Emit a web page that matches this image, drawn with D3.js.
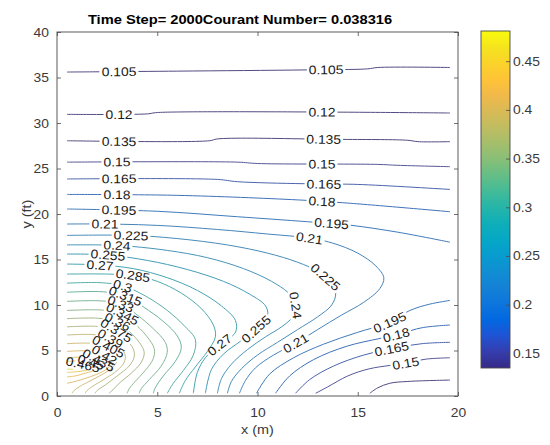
<!DOCTYPE html>
<html>
<head>
<meta charset="utf-8">
<script src="https://cdn.jsdelivr.net/npm/d3@7"></script>
<style>
  body { margin: 0; background: #fff; }
  text { font-family: "Liberation Sans", Arial, sans-serif; }
</style>
</head>
<body>
<svg id="chart" width="550" height="445"></svg>
<script>
// ---- chart content ----
const titleText = "Time Step= 2000Courant Number= 0.038316";
const xLabel = "x (m)";
const yLabel = "y (ft)";
const xTicks = [0, 5, 10, 15, 20];
const yTicks = [0, 5, 10, 15, 20, 25, 30, 35, 40];
const colorTicks = [0.15, 0.2, 0.25, 0.3, 0.35, 0.4, 0.45];
const colorRange = [0.135, 0.481];

// contour level of each traced piece
const pieceLevels = [
  0.105, 0.12, 0.135, 0.15, 0.165, 0.18, 0.195,
  0.135, 0.15, 0.165, 0.18, 0.195,
  0.21, 0.225, 0.24, 0.255, 0.27, 0.285, 0.3, 0.315, 0.33, 0.345,
  0.36, 0.375, 0.39, 0.405, 0.42, 0.435, 0.45, 0.465
];

// contour pieces as [x (m), y (ft)] vertices
const pieceCoords = [
  [[0.5,35.6],[6,35.7],[13,35.85],[15.5,35.95],[16,36.1],[19.6,36.1]],
  [[0.5,30.95],[4.5,31.0],[5,31.15],[19.6,31.1]],
  [[0.5,28.05],[7.6,28.05],[8,28.25],[14,28.2],[17.5,28.1],[18,27.95],[19.6,27.95]],
  [[0.5,25.7],[9,25.7],[10,25.55],[16,25.45],[17,25.35],[19.6,25.2]],
  [[0.5,23.85],[8,23.8],[9,23.55],[13,23.3],[15,23.25],[19.6,22.7]],
  [[0.5,22.15],[6,22.05],[12,21.55],[14.5,21.2],[19.6,20.25]],
  [[0.5,20.55],[5,20.3],[9,19.7],[12.5,19.15],[14.5,18.8],[17,18.0],[19.6,16.9]],
  [[15.6,0.3],[16.0,0.9],[16.6,1.4],[17.5,1.6],[19.6,1.75]],
  [[12.9,0.3],[13.5,1.0],[14.5,2.2],[15.6,3.0],[17.4,3.6],[18.4,4.05],[19.6,4.2]],
  [[11.9,0.3],[12.6,1.8],[13.8,3.3],[15.3,4.5],[16.7,5.2],[18.2,5.75],[19.6,5.9]],
  [[10.9,0.3],[11.6,2.2],[12.8,4.0],[14.5,5.5],[16.9,6.7],[18.2,7.5],[19.6,7.8]],
  [[9.95,0.3],[10.6,2.4],[11.8,4.2],[13.3,5.7],[15.0,7.0],[16.6,8.1],[17.6,9.4],[18.6,10.1],[19.6,10.5]],
  [[0.5,18.9],[2.4,18.9],[5,18.75],[8,18.3],[10.5,17.8],[12.6,17.35],[13.75,16.8],[15.0,15.7],[15.9,14.3],[16.3,13.0],[16.1,11.8],[15.3,10.3],[14.2,8.9],[13.0,7.3],[11.9,5.8],[10.8,4.5],[9.9,3.1],[9.4,1.7],[9.1,0.3]],
  [[0.5,17.65],[3.7,17.65],[6,17.3],[8.5,16.6],[10.5,15.7],[12.0,14.7],[13.0,13.7],[13.6,12.6],[13.9,11.3],[13.7,10.0],[13.0,8.7],[12.0,7.3],[11.0,5.9],[10.0,4.5],[9.2,3.0],[8.7,1.6],[8.5,0.3]],
  [[0.5,16.6],[3,16.55],[5.5,16.0],[7.5,15.2],[9.3,14.0],[10.7,12.6],[11.6,11.2],[11.9,10.0],[11.8,8.8],[11.2,7.6],[10.4,6.5],[9.5,5.1],[8.7,3.5],[8.2,1.9],[8.0,0.3]],
  [[0.5,15.6],[2.5,15.5],[4.5,14.9],[6.5,13.9],[8.3,12.6],[9.6,11.2],[10.4,9.9],[10.5,8.8],[9.95,7.4],[9.2,6.1],[8.3,4.6],[7.7,2.9],[7.4,0.3]],
  [[0.5,14.5],[2.1,14.4],[3.8,14.0],[5.5,13.0],[7.0,11.6],[8.2,9.9],[8.9,8.3],[8.9,7.0],[8.1,5.6],[7.4,4.2],[7.0,2.6],[6.8,0.3]],
  [[0.5,13.4],[2.5,13.4],[3.8,13.25],[5.0,12.6],[6.2,11.3],[7.2,9.6],[7.8,7.8],[7.9,6.5],[7.5,4.9],[6.9,3.2],[6.4,1.7],[6.1,0.3]],
  [[0.5,12.4],[2.2,12.45],[3.3,12.1],[4.4,11.0],[5.5,9.4],[6.4,7.6],[6.9,6.2],[6.8,4.5],[6.3,2.8],[5.8,1.4],[5.5,0.3]],
  [[0.5,11.4],[2.3,11.45],[3.4,11.0],[4.3,9.8],[5.3,8.2],[6.0,6.6],[6.2,5.3],[5.9,3.8],[5.3,2.2],[4.9,0.9],[4.8,0.3]],
  [[0.5,10.4],[2.2,10.45],[3.2,10.1],[4.0,8.9],[4.8,7.4],[5.4,5.9],[5.5,4.8],[5.2,3.3],[4.6,1.8],[4.2,0.8],[4.1,0.3]],
  [[0.5,9.4],[2.2,9.45],[3.2,9.1],[3.9,7.9],[4.5,6.5],[4.85,5.2],[4.8,4.1],[4.4,2.8],[3.9,1.6],[3.6,0.8],[3.5,0.3]],
  [[0.5,8.5],[2.0,8.55],[3.0,8.2],[3.6,7.1],[4.1,5.9],[4.35,4.8],[4.2,3.7],[3.7,2.5],[3.1,1.4],[2.8,0.7],[2.6,0.3]],
  [[0.5,7.6],[2.0,7.65],[2.9,7.3],[3.4,6.3],[3.8,5.2],[3.85,4.3],[3.6,3.3],[3.0,2.2],[2.4,1.2],[2.0,0.6],[1.9,0.3]],
  [[0.5,6.7],[1.8,6.75],[2.6,6.4],[3.1,5.5],[3.4,4.5],[3.35,3.7],[3.0,2.8],[2.4,1.9],[1.8,1.1],[1.5,0.6],[1.4,0.3]],
  [[0.5,5.75],[1.7,5.8],[2.5,5.5],[2.95,4.7],[3.0,3.9],[2.75,3.1],[2.2,2.3],[1.6,1.6],[1.1,1.0],[0.85,0.6],[0.75,0.3]],
  [[0.5,4.9],[1.6,4.95],[2.3,4.6],[2.65,3.9],[2.6,3.2],[2.2,2.6],[1.5,2.0],[0.9,1.6],[0.5,1.4]],
  [[0.5,4.2],[1.5,4.25],[2.1,3.9],[2.3,3.4],[2.0,2.9],[1.4,2.5],[0.9,2.2],[0.5,2.1]],
  [[0.5,3.8],[1.3,3.85],[1.85,3.55],[1.85,3.1],[1.4,2.8],[0.9,2.65],[0.5,2.6]],
  [[0.5,3.55],[1.1,3.55],[1.5,3.3],[1.3,3.05],[0.9,2.95],[0.5,2.95]]
];

// inline contour labels: level and approximate spot (data units)
const labelLevels = [
  0.105, 0.105, 0.12, 0.12, 0.135, 0.135, 0.15, 0.15, 0.165, 0.165, 0.18, 0.18,
  0.195, 0.195, 0.21, 0.21, 0.21, 0.225, 0.225, 0.24, 0.24, 0.255, 0.255, 0.27, 0.27,
  0.285, 0.3, 0.315, 0.33, 0.345, 0.36, 0.375, 0.39, 0.405, 0.42, 0.435, 0.45, 0.465,
  0.195, 0.18, 0.165, 0.15
];
const labelAnchors = [
  [3.1,35.6],[13.4,35.85],[3.1,31.0],[13.2,31.1],[3.1,28.05],[13.3,28.2],[3.0,25.7],[13.2,25.5],
  [3.1,23.8],[13.3,23.3],[3.0,22.1],[13.2,21.4],[3.1,20.4],[13.7,18.9],
  [2.4,18.9],[12.6,17.4],[11.9,5.75],[3.7,17.65],[13.4,13.1],[3.0,16.5],[11.9,10.0],
  [2.55,15.45],[9.93,7.4],[2.14,14.4],[8.1,5.7],
  [3.8,13.25],[3.3,12.2],[3.45,11.2],[3.2,10.3],[3.3,9.2],[3.05,8.3],[3.0,7.3],[2.7,6.4],
  [2.6,5.5],[2.4,4.7],[2.1,4.0],[1.7,3.6],[1.3,3.4],
  [16.6,8.1],[16.9,6.7],[16.7,5.2],[17.4,3.6]
];

// MATLAB parula colormap samples (every third entry of the 64-colour table)
const parula = [
  [0.2081,0.1663,0.5292],[0.2081,0.2386,0.6771],[0.1253,0.3242,0.8303],[0.0060,0.4086,0.8828],
  [0.0498,0.4586,0.8641],[0.0779,0.5040,0.8384],[0.0641,0.5570,0.8240],[0.0265,0.6137,0.8135],
  [0.0228,0.6535,0.7768],[0.0590,0.6838,0.7254],[0.1453,0.7098,0.6646],[0.2586,0.7317,0.5954],
  [0.3953,0.7459,0.5244],[0.5300,0.7491,0.4661],[0.6473,0.7456,0.4188],[0.7525,0.7384,0.3768],
  [0.8507,0.7299,0.3360],[0.9450,0.7261,0.2886],[0.9990,0.7653,0.2164],[0.9789,0.8271,0.1633],
  [0.9589,0.8949,0.1132],[0.9763,0.9831,0.0538]
].map(c => d3.rgb(c[0]*255, c[1]*255, c[2]*255).toString());

// ---- layout ----
const plot = { left: 57, right: 458, top: 32, bottom: 396 };
const bar = { left: 481, right: 510, top: 31, bottom: 368 };
const stretch = 1.11;         // horizontal text stretch of the figure
const ink = "#4a4a4a";

const svg = d3.select("#chart");
const x = d3.scaleLinear().domain([0, 20]).range([plot.left, plot.right]);
const y = d3.scaleLinear().domain([0, 40]).range([plot.bottom, plot.top]);
const color = d3.scaleLinear()
  .domain(parula.map((_, i) => colorRange[0] + i / (parula.length - 1) * (colorRange[1] - colorRange[0])))
  .range(parula).clamp(true);
// thin contour strokes read softer than the colormap itself:
// low levels fade toward mid grey, high levels toward a pale grey
const tNorm = d3.scaleLinear().domain(colorRange).range([0, 1]).clamp(true);
const lineColor = v => {
  const soft = d3.interpolateRgb("#7c7c7c", "#d4d4d4")(tNorm(v));
  return d3.interpolateRgb(color(v), soft)(0.42);
};

svg.append("rect").attr("width", 550).attr("height", 445).attr("fill", "#fff");

const defs = svg.append("defs");
defs.append("clipPath").attr("id", "plotClip").append("rect")
  .attr("x", plot.left).attr("y", plot.top)
  .attr("width", plot.right - plot.left).attr("height", plot.bottom - plot.top);

// ---- contour lines ----
const line = d3.line().x(d => x(d[0])).y(d => y(d[1])).curve(d3.curveCatmullRom.alpha(0.5));
const gLines = svg.append("g").attr("clip-path", "url(#plotClip)");
const paths = gLines.selectAll("path").data(pieceCoords).join("path")
  .attr("d", line)
  .attr("fill", "none")
  .attr("stroke", (d, i) => lineColor(pieceLevels[i]))
  .attr("stroke-width", 1)
  .attr("stroke-linejoin", "round");

const pathNodes = paths.nodes();
const gaps = pathNodes.map(() => []);
const gLabels = svg.append("g");
const fmt = v => String(+v.toFixed(3));

labelLevels.forEach((lev, k) => {
  const ax = x(labelAnchors[k][0]), ay = y(labelAnchors[k][1]);
  let best = { d: Infinity, i: -1, s: 0 };
  pathNodes.forEach((node, i) => {
    if (Math.abs(pieceLevels[i] - lev) > 1e-9) return;
    const L = node.getTotalLength();
    for (let s = 0; s <= L; s += 1) {
      const p = node.getPointAtLength(s);
      const dd = (p.x - ax) ** 2 + (p.y - ay) ** 2;
      if (dd < best.d) best = { d: dd, i, s };
    }
  });
  if (best.i < 0) return;
  const node = pathNodes[best.i];
  const L = node.getTotalLength();
  const p = node.getPointAtLength(best.s);
  const p0 = node.getPointAtLength(Math.max(0, best.s - 3));
  const p1 = node.getPointAtLength(Math.min(L, best.s + 3));
  let ang = Math.atan2(p1.y - p0.y, p1.x - p0.x) * 180 / Math.PI;
  if (ang > 90) ang -= 180;
  if (ang < -90) ang += 180;
  const t = gLabels.append("text")
    .attr("transform", `translate(${p.x},${p.y}) rotate(${ang}) scale(${stretch},1)`)
    .attr("text-anchor", "middle")
    .attr("dy", "0.36em")
    .attr("font-size", "12.5px")
    .attr("fill", "#1a1a1a")
    .text(fmt(lev));
  const w = t.node().getComputedTextLength() * stretch;
  gaps[best.i].push([best.s - w / 2 - 2, best.s + w / 2 + 2]);
});

// break each contour where its labels sit
pathNodes.forEach((node, i) => {
  if (!gaps[i].length) return;
  const L = node.getTotalLength();
  const g = gaps[i].sort((a, b) => a[0] - b[0]);
  const dash = [];
  let pos = 0;
  g.forEach(([a, b]) => {
    a = Math.max(a, pos); b = Math.min(b, L);
    dash.push(Math.max(0, a - pos), Math.max(0, b - a));
    pos = b;
  });
  dash.push(Math.max(0, L - pos), L + 10);
  d3.select(node).attr("stroke-dasharray", dash.join(" "));
});

// ---- axes ----
function styleAxis(g) {
  g.select(".domain").remove();
  g.selectAll(".tick line").attr("stroke", ink).attr("stroke-width", 0.8);
  g.selectAll(".tick text").attr("fill", "#3a3a3a").attr("font-size", "12.5px")
    .attr("font-family", "Liberation Sans, Arial, sans-serif");
}

svg.append("g").attr("transform", `translate(0,${plot.bottom})`)
  .call(d3.axisBottom(x).tickValues(xTicks).tickFormat(String).tickSize(-4).tickSizeOuter(0).tickPadding(12))
  .call(styleAxis);
svg.append("g").attr("transform", `translate(0,${plot.top})`)
  .call(d3.axisTop(x).tickValues(xTicks).tickFormat("").tickSize(-4).tickSizeOuter(0))
  .call(styleAxis);
svg.append("g").attr("transform", `translate(${plot.left},0)`)
  .call(d3.axisLeft(y).tickValues(yTicks).tickFormat(String).tickSize(-4).tickSizeOuter(0).tickPadding(8))
  .call(styleAxis);
svg.append("g").attr("transform", `translate(${plot.right},0)`)
  .call(d3.axisRight(y).tickValues(yTicks).tickFormat("").tickSize(-4).tickSizeOuter(0))
  .call(styleAxis);

svg.selectAll(".tick text").each(function () {
  const t = d3.select(this);
  const tx = +t.attr("x") || 0;
  t.attr("transform", `translate(${tx},0) scale(${stretch},1) translate(${-tx},0)`);
});

svg.append("rect")
  .attr("x", plot.left).attr("y", plot.top)
  .attr("width", plot.right - plot.left).attr("height", plot.bottom - plot.top)
  .attr("fill", "none").attr("stroke", ink).attr("stroke-width", 0.9);

// ---- colorbar ----
const grad = defs.append("linearGradient").attr("id", "parulaGrad")
  .attr("x1", 0).attr("y1", 1).attr("x2", 0).attr("y2", 0);
parula.forEach((c, i) => grad.append("stop").attr("offset", i / (parula.length - 1)).attr("stop-color", c));

const cy = d3.scaleLinear().domain(colorRange).range([bar.bottom, bar.top]);
svg.append("rect")
  .attr("x", bar.left).attr("y", bar.top)
  .attr("width", bar.right - bar.left).attr("height", bar.bottom - bar.top)
  .attr("fill", "url(#parulaGrad)");
const cAxis = svg.append("g").attr("transform", `translate(${bar.right},0)`)
  .call(d3.axisRight(cy).tickValues(colorTicks).tickFormat(String).tickSize(-4).tickSizeOuter(0).tickPadding(3))
  .call(styleAxis);
cAxis.selectAll(".tick text").attr("transform", function () {
  const tx = +d3.select(this).attr("x") || 0;
  return `translate(${tx},0) scale(${stretch},1) translate(${-tx},0)`;
});
svg.append("rect")
  .attr("x", bar.left).attr("y", bar.top)
  .attr("width", bar.right - bar.left).attr("height", bar.bottom - bar.top)
  .attr("fill", "none").attr("stroke", ink).attr("stroke-width", 0.9);

// ---- titles ----
svg.append("text")
  .attr("transform", `translate(240,24) scale(${stretch},1)`)
  .attr("text-anchor", "middle").attr("font-weight", "bold").attr("font-size", "13.2px")
  .attr("fill", "#000").text(titleText);
svg.append("text")
  .attr("transform", `translate(${(plot.left + plot.right) / 2},434) scale(${stretch},1)`)
  .attr("text-anchor", "middle").attr("font-size", "13px").attr("fill", "#3a3a3a").text(xLabel);
svg.append("text")
  .attr("transform", `translate(31,${(plot.top + plot.bottom) / 2}) rotate(-90) scale(${stretch},1)`)
  .attr("text-anchor", "middle").attr("font-size", "13px").attr("fill", "#3a3a3a").text(yLabel);
</script>
</body>
</html>
